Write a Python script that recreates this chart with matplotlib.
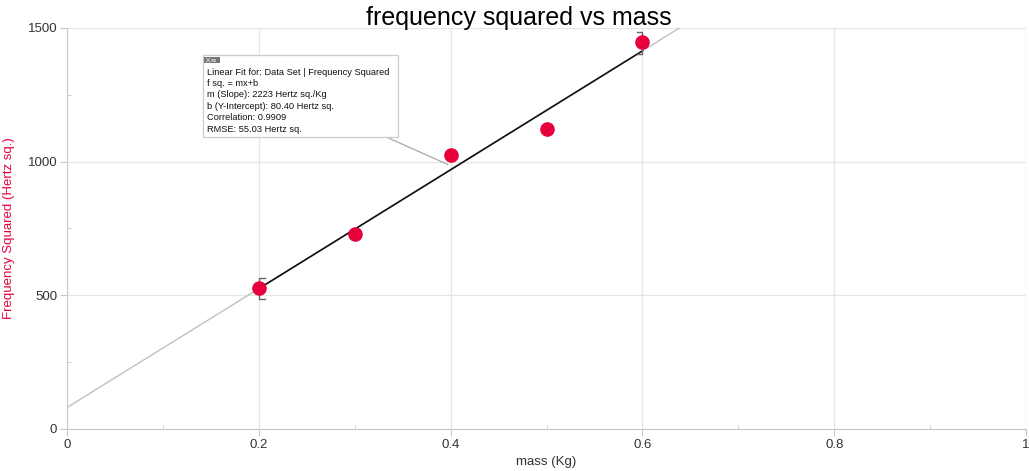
import matplotlib
matplotlib.use("Agg")
import matplotlib.pyplot as plt
import numpy as np

mass = [0.2, 0.3, 0.4, 0.5, 0.6]
freq_sq = [528, 730, 1024, 1121, 1446]
slope = 2223.0
intercept = 80.40
fit_range = [0.2, 0.6]
x_ticks = [0, 0.2, 0.4, 0.6, 0.8, 1]
x_tick_labels = ["0", "0.2", "0.4", "0.6", "0.8", "1"]
y_ticks = [0, 500, 1000, 1500]
info_lines = [
    "Linear Fit for: Data Set | Frequency Squared",
    "f sq. = mx+b",
    "m (Slope): 2223 Hertz sq./Kg",
    "b (Y-Intercept): 80.40 Hertz sq.",
    "Correlation: 0.9909",
    "RMSE: 55.03 Hertz sq.",
]

plt.rcParams['font.family'] = ['Liberation Sans', 'DejaVu Sans']
fig = plt.figure(figsize=(10.29, 4.71), dpi=100)
ax = fig.add_axes([0.0651, 0.0892, 0.9320, 0.8514])
ax.set_xlim(0, 1)
ax.set_ylim(0, 1500)

grid_c = '#e6e6e6'
for s in ['top', 'right']:
    ax.spines[s].set_visible(False)
for s in ['left', 'bottom']:
    ax.spines[s].set_color('#c8c8c8')
ax.set_xticks(x_ticks)
ax.set_xticklabels(x_tick_labels)
ax.set_yticks(y_ticks)
ax.set_xticks([0.1, 0.3, 0.5, 0.7, 0.9], minor=True)
ax.set_yticks([250, 750, 1250], minor=True)
ax.tick_params(which='major', length=5, color='#c8c8c8', labelsize=9.5,
               labelcolor='#333333', pad=2)
ax.tick_params(which='minor', length=3, color='#c8c8c8', direction='in')
ax.grid(True, which='major', color=grid_c, linewidth=0.9)
ax.set_axisbelow(True)
ax.axvline(1, color=grid_c, linewidth=0.9)

# full fit line (grey)
xs = np.array([0, 1.0])
ax.plot(xs, slope * xs + intercept, color='#c0c0c0', linewidth=1, zorder=2)
# fit range segment (black)
xf = np.array(fit_range)
ax.plot(xf, slope * xf + intercept, color='#111111', linewidth=1.2, zorder=3)

# range brackets
bx = fit_range
ax.plot([bx[0] + 0.006, bx[0], bx[0], bx[0] + 0.006],
        [slope * bx[0] + intercept - 40, slope * bx[0] + intercept - 40,
         slope * bx[0] + intercept + 40, slope * bx[0] + intercept + 40],
        color='#666666', linewidth=1, zorder=3)
ax.plot([bx[1] - 0.006, bx[1], bx[1], bx[1] - 0.006],
        [slope * bx[1] + intercept - 10, slope * bx[1] + intercept - 10,
         slope * bx[1] + intercept + 70, slope * bx[1] + intercept + 70],
        color='#666666', linewidth=1, zorder=3)

ax.scatter(mass, freq_sq, s=90, color='#e8003d', edgecolors='#e8003d', zorder=5)

fig.text(0.504, 0.962, "frequency squared vs mass", fontsize=18, ha='center', va='center')
ax.set_xlabel("mass (Kg)", fontsize=9.5, color='#333333')
ax.xaxis.set_label_coords(0.5, -0.068)
ax.set_ylabel("Frequency Squared (Hertz sq.)", fontsize=9.5, color='#e8003d')
ax.yaxis.set_label_coords(-0.054, 0.5)

# info box
ax.annotate("", xy=(0.4, slope * 0.4 + intercept + 15), xytext=(0.333, 1092),
            arrowprops=dict(arrowstyle='-', color='#aaaaaa', lw=0.9), zorder=4)
ax.add_patch(plt.Rectangle((0.1418, 1092), 0.2034, 307, facecolor='white',
                           edgecolor='#cccccc', linewidth=0.9, zorder=6))
ax.text(0.146, 1352, "\n".join(info_lines), fontsize=6.7, color='#111111',
        va='top', ha='left', linespacing=1.35, zorder=7)
ax.add_patch(plt.Rectangle((0.1425, 1370), 0.0175, 22, facecolor='#777777',
                           edgecolor='none', zorder=7))
ax.text(0.1433, 1381, "\u2715\u2261", fontsize=5.5, color='#dddddd', va='center', ha='left',
        zorder=8, family=['DejaVu Sans'])

fig.savefig("out.png", dpi=100)
